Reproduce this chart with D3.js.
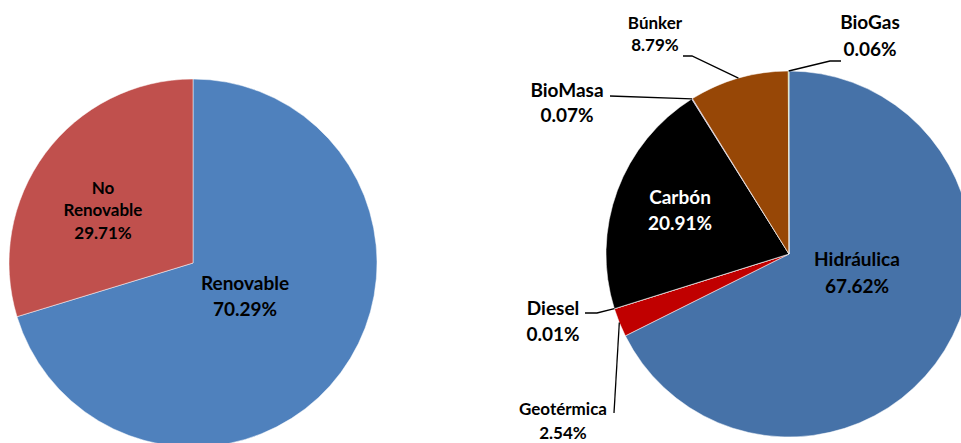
<!DOCTYPE html>
<html lang="es">
<head>
<meta charset="utf-8">
<title>Generación</title>
<script src="https://d3js.org/d3.v7.min.js"></script>
<style>
  body { margin: 0; background: #fff; }
  text { font-family: Lato, "Liberation Sans", sans-serif; font-weight: bold; }
</style>
</head>
<body>
<div id="main"></div>
<script>
var width = 961, height = 443;

// left pie
var leftLabels = ["Renovable", "No Renovable"];
var leftValues = [70.29, 29.71];
var leftColors = ["#4F81BD", "#C0504D"];

// right pie
var rightLabels = ["Hidráulica", "Geotérmica", "Diesel", "Carbón", "BioMasa", "Búnker", "BioGas"];
var rightValues = [67.62, 2.54, 0.01, 20.91, 0.07, 8.79, 0.06];
var rightColors = ["#4672A8", "#C00000", "#7F7F7F", "#000000", "#8064A2", "#974706", "#9BBB59"];

var svg = d3.select("#main").append("svg")
    .attr("width", width)
    .attr("height", height);

var pie = d3.pie().sort(null).value(d => d);

function drawPie(cx, cy, r, values, colors) {
  var g = svg.append("g").attr("transform", "translate(" + cx + "," + cy + ")");
  var arc = d3.arc().innerRadius(0).outerRadius(r);
  var arcs = pie(values);
  g.selectAll("path")
    .data(arcs)
    .enter().append("path")
    .attr("d", arc)
    .attr("fill", (d, i) => colors[i])
    .attr("stroke", "#fff")
    .attr("stroke-width", 0.5);
  return {g: g, arcs: arcs, edge: d3.arc().innerRadius(r).outerRadius(r)};
}

function label(g, x, y, lines, size, gap, color) {
  var t = g.append("text")
    .attr("text-anchor", "middle")
    .attr("font-size", size)
    .attr("fill", color || "#000");
  lines.forEach(function(s, i) {
    t.append("tspan").attr("x", x).attr("y", y + i * gap).attr("dy", "0.35em").text(s);
  });
}

function pct(v) { return v.toFixed(2) + "%"; }

var L = drawPie(193, 263, 184, leftValues, leftColors);
label(L.g, 52, 20, [leftLabels[0], pct(leftValues[0])], 19, 26);
label(L.g, -90, -75, ["No", "Renovable", pct(leftValues[1])], 17, 22.5);

var R = drawPie(789, 254, 183, rightValues, rightColors);

// label placement relative to right pie centre
var rightLayout = [
  {x: 68, y: 5, size: 19, gap: 27, color: "#000", lead: null},
  {x: -226, y: 155, size: 17, gap: 24, color: "#000", lead: [[-175, 159]]},
  {x: -236, y: 54, size: 19, gap: 26, color: "#000", lead: [[-192, 59], [-204, 59]]},
  {x: -109, y: -57, size: 19, gap: 26, color: "#fff", lead: null},
  {x: -222, y: -164, size: 19, gap: 25, color: "#000", lead: [[-179, -158]]},
  {x: -134, y: -231, size: 17, gap: 22, color: "#000", lead: [[-97, -198], [-106, -198]]},
  {x: 81, y: -232, size: 19, gap: 27, color: "#000", lead: [[41, -193], [52, -193]]}
];

var line = d3.line();
R.arcs.forEach(function(a, i) {
  var p = rightLayout[i];
  if (p.lead) {
    var s = R.edge.centroid(a);
    R.g.append("path")
      .attr("d", line([s].concat(p.lead)))
      .attr("fill", "none")
      .attr("stroke", "#000")
      .attr("stroke-width", 1.3);
  }
  label(R.g, p.x, p.y, [rightLabels[i], pct(rightValues[i])], p.size, p.gap, p.color);
});
</script>
</body>
</html>
